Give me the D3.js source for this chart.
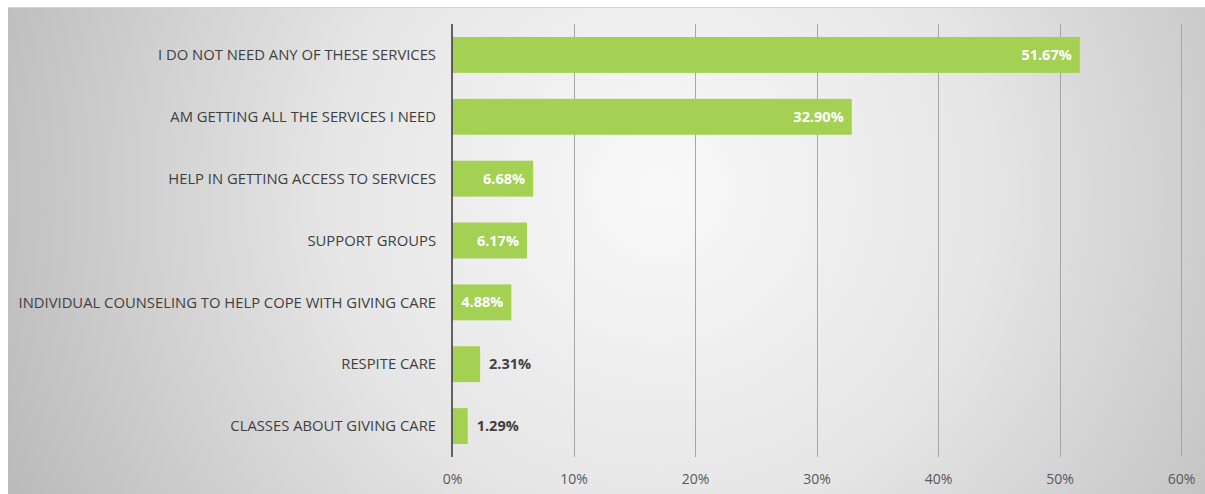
<!DOCTYPE html>
<html>
<head>
<meta charset="utf-8">
<script src="https://cdn.jsdelivr.net/npm/d3@7"></script>
<style>
  html, body { margin: 0; padding: 0; background: #ffffff; }
  svg { display: block; }
  text { font-family: "Open Sans", "Noto Sans", sans-serif; }
</style>
</head>
<body>
<svg id="chart" width="1205" height="494"></svg>
<script>
// Services caregivers say they need (share of respondents)
const categories = [
  "I DO NOT NEED ANY OF THESE SERVICES",
  "AM GETTING ALL THE SERVICES I NEED",
  "HELP IN GETTING ACCESS TO SERVICES",
  "SUPPORT GROUPS",
  "INDIVIDUAL COUNSELING TO HELP COPE WITH GIVING CARE",
  "RESPITE CARE",
  "CLASSES ABOUT GIVING CARE"
];
const values = [51.67, 32.90, 6.68, 6.17, 4.88, 2.31, 1.29];
const tickValues = [0, 10, 20, 30, 40, 50, 60];
const tickLabels = ["0%", "10%", "20%", "30%", "40%", "50%", "60%"];

const svg = d3.select("#chart");
const W = 1205, H = 494;

// Panel background: soft radial shading
const defs = svg.append("defs");
const grad = defs.append("radialGradient")
  .attr("id", "panelShade")
  .attr("gradientUnits", "userSpaceOnUse")
  .attr("cx", 660).attr("cy", 190).attr("r", 720);
grad.append("stop").attr("offset", "0").attr("stop-color", "#f9f9f9");
grad.append("stop").attr("offset", "0.45").attr("stop-color", "#e6e6e6");
grad.append("stop").attr("offset", "1").attr("stop-color", "#bababa");

svg.append("rect")
  .attr("x", 8).attr("y", 8)
  .attr("width", W - 8).attr("height", H - 8)
  .attr("fill", "url(#panelShade)");
svg.append("line")
  .attr("x1", 8).attr("x2", W).attr("y1", 7.5).attr("y2", 7.5)
  .attr("stroke", "#d4d4d4").attr("stroke-width", 1);

const plot = { left: 452, right: 1181, top: 24, bottom: 457 };

const x = d3.scaleLinear().domain([0, 60]).range([plot.left, plot.right]);
const y = d3.scaleBand().domain(categories)
  .range([plot.top, plot.bottom])
  .paddingInner(0.42).paddingOuter(0.21);

// Vertical gridlines
svg.append("g")
  .selectAll("line")
  .data(tickValues.filter(v => v > 0))
  .join("line")
  .attr("x1", d => Math.round(x(d)) + 0.5)
  .attr("x2", d => Math.round(x(d)) + 0.5)
  .attr("y1", plot.top).attr("y2", plot.bottom)
  .attr("stroke", "#a6a6a6").attr("stroke-width", 1);

// Bars
svg.append("g")
  .selectAll("rect")
  .data(values)
  .join("rect")
  .attr("x", x(0))
  .attr("y", (d, i) => y(categories[i]))
  .attr("width", d => x(d) - x(0))
  .attr("height", y.bandwidth())
  .attr("fill", "#a4d053");

// Category axis line
svg.append("line")
  .attr("x1", x(0)).attr("x2", x(0))
  .attr("y1", plot.top).attr("y2", plot.bottom)
  .attr("stroke", "#404040").attr("stroke-width", 1.6);

// Category labels
svg.append("g")
  .selectAll("text")
  .data(categories)
  .join("text")
  .attr("x", 436)
  .attr("y", d => y(d) + y.bandwidth() / 2)
  .attr("dy", "0.35em")
  .attr("text-anchor", "end")
  .attr("font-size", 14.8)
  .attr("fill", "#404040")
  .text(d => d);

// Value labels: inside the bar end when it fits, otherwise just past it
svg.append("g")
  .selectAll("text")
  .data(values)
  .join("text")
  .each(function (d, i) {
    const inside = d >= 4;
    d3.select(this)
      .attr("x", inside ? x(d) - 8 : x(d) + 9)
      .attr("y", y(categories[i]) + y.bandwidth() / 2)
      .attr("dy", "0.35em")
      .attr("text-anchor", inside ? "end" : "start")
      .attr("fill", inside ? "#ffffff" : "#404040");
  })
  .attr("font-size", 14.5)
  .attr("font-weight", "bold")
  .text(d => d.toFixed(2) + "%");

// Value axis tick labels
const xAxis = d3.axisBottom(x)
  .tickValues(tickValues)
  .tickFormat((d, i) => tickLabels[i])
  .tickSize(0)
  .tickPadding(0);
const gx = svg.append("g")
  .attr("transform", `translate(0, ${plot.bottom + 17})`)
  .call(xAxis);
gx.select(".domain").remove();
gx.selectAll("text")
  .attr("font-size", 14)
  .attr("fill", "#595959")
  .style("font-family", "'Open Sans', 'Noto Sans', sans-serif");
</script>
</body>
</html>
